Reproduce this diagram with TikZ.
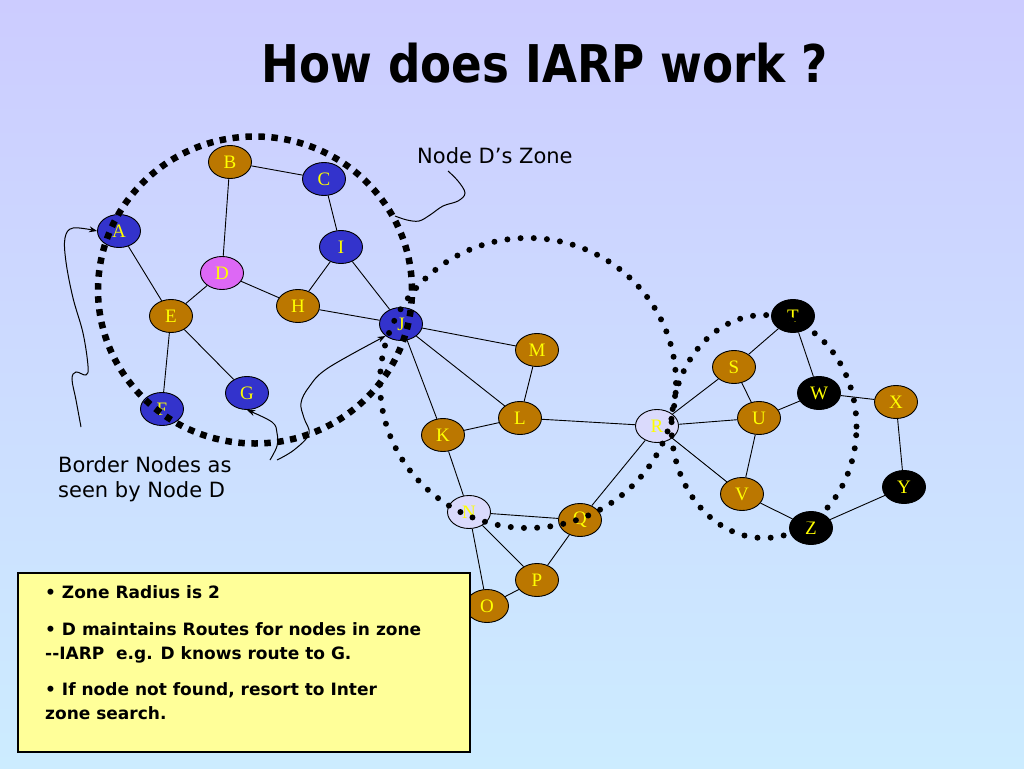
\documentclass[tikz,border=0pt]{standalone}
\usepackage{fontspec}
\setmainfont{DejaVu Sans}
\newfontfamily\serifnode{Liberation Serif}
\usetikzlibrary{shapes.geometric,arrows.meta}
\definecolor{bgtop}{RGB}{204,204,255}
\definecolor{bgbot}{RGB}{204,236,255}
\definecolor{nblue}{RGB}{51,51,204}
\definecolor{nbrown}{RGB}{187,119,0}
\definecolor{npink}{RGB}{221,104,245}
\definecolor{nlav}{RGB}{218,218,252}
\definecolor{nyellow}{RGB}{255,255,0}
\definecolor{boxfill}{RGB}{255,255,153}
\begin{document}
\begin{tikzpicture}[x=1pt,y=-1pt,
  gnode/.style={ellipse, draw=black, line width=0.9pt, minimum width=43pt, minimum height=33pt,
    inner sep=0pt, font=\serifnode\fontsize{19}{19}\selectfont, text=nyellow},
  bn/.style={gnode, fill=nblue},
  rn/.style={gnode, fill=nbrown},
  pn/.style={gnode, fill=npink},
  ln/.style={gnode, fill=nlav},
  kn/.style={gnode, fill=black},
  link/.style={line width=0.9pt},
  bigdots/.style={line width=6.5pt, dash pattern=on 6.5pt off 6.5pt},
  rounddots/.style={line width=6pt, line cap=round, dash pattern=on 0pt off 13.2pt},
  pointer/.style={line width=1pt, -{Stealth[length=8pt,width=6pt]}},
  curve/.style={line width=1pt},
  lbl/.style={font=\fontsize{21}{21}\selectfont, anchor=base west, inner sep=0pt},
  boxtxt/.style={font=\bfseries\fontsize{17}{17}\selectfont, anchor=base west, inner sep=0pt}
]
\useasboundingbox (0,0) rectangle (1024,768);
\shade[top color=bgtop, bottom color=bgbot] (0,0) rectangle (1024,768);

% title
\node[anchor=base, inner sep=0pt] (title) at (545,82)
  {\scalebox{0.87}[1]{\bfseries\fontsize{52}{52}\selectfont How does IARP work ?}};

% nodes
\node[bn] (A) at (119,231) {A};
\node[rn] (B) at (230,162) {B};
\node[bn] (C) at (324,179) {C};
\node[pn] (D) at (222,273) {D};
\node[rn] (E) at (171,316) {E};
\node[bn] (F) at (162,409) {F};
\node[bn] (G) at (247,393) {G};
\node[rn] (H) at (298,306) {H};
\node[bn] (I) at (341,247) {I};
\node[bn] (J) at (401,324) {J};
\node[rn] (K) at (443,435) {K};
\node[rn] (L) at (520,418) {L};
\node[rn] (M) at (537,350) {M};
\node[ln] (N) at (469,512) {N};
\node[rn] (O) at (487,606) {O};
\node[rn] (P) at (537,580) {P};
\node[rn] (Q) at (580,520) {Q};
\node[ln] (R) at (657,426) {R};
\node[rn] (S) at (734,367) {S};
\node[kn] (T) at (793,316) {T};
\node[rn] (U) at (759,418) {U};
\node[rn] (V) at (742,494) {V};
\node[kn] (W) at (819,393) {W};
\node[rn] (X) at (896,402) {X};
\node[kn] (Y) at (904,487) {Y};
\node[kn] (Z) at (811,528) {Z};

% links
\foreach \a/\b in {A/E,B/D,B/C,C/I,I/H,I/J,D/E,D/H,E/F,E/G,H/J,J/M,J/L,J/K,M/L,K/L,L/R,K/N,
  N/Q,N/P,N/O,O/P,P/Q,Q/R,R/S,R/U,R/V,S/T,S/U,U/W,U/V,T/W,W/X,X/Y,Y/Z,V/Z}
  \draw[link] (\a) -- (\b);

% zones
\draw[bigdots] (255,290) ellipse [x radius=157pt, y radius=153.5pt];
\draw[rounddots] (528,383) ellipse [x radius=148pt, y radius=145pt];
\draw[rounddots] (764,426.5) ellipse [x radius=92.5pt, y radius=111.5pt];

% labels
\node[lbl] (zonelbl) at (417,163) {Node D’s Zone};
\node[lbl] (border1) at (58,472) {Border Nodes as};
\node[lbl] (border2) at (58,497) {seen by Node D};

% callout curves
\coordinate (zc0) at (448,171);
\coordinate (zc1) at (395,216);
\draw[curve] plot[smooth, tension=0.6] coordinates {(zc0) (458,181) (465,193) (458,201) (443,206) (430,215) (419,221) (407,220) (zc1)};

\coordinate (ac0) at (81,427);
\draw[pointer] plot[smooth, tension=0.6] coordinates {(ac0) (76,400) (72,379) (76,372) (86,375) (88,366) (83,333) (73,298) (66,262) (65,238) (73,228) (A.west)};

\coordinate (gc0) at (270,460);
\draw[pointer] plot[smooth, tension=0.6] coordinates {(gc0) (277,446) (277,433) (272,422) (G.south)};

\coordinate (jc0) at (277,460);
\draw[pointer] plot[smooth, tension=0.6] coordinates {(jc0) (294,450) (309,434) (304,418) (301,403) (309,387) (328,368) (J.south west)};

% text box
\node[draw=black, line width=1.5pt, fill=boxfill, minimum width=452pt, minimum height=179pt,
  anchor=north west, inner sep=0pt] (box) at (17,572) {};
\node[boxtxt] (t1) at (45,598) {• Zone Radius is 2};
\node[boxtxt] (t2) at (45,635) {• D maintains Routes for nodes in zone};
\node[boxtxt] (t3) at (45,659) {-{}-IARP \ e.g. D knows route to G.};
\node[boxtxt] (t4) at (45,695) {• If node not found, resort to Inter};
\node[boxtxt] (t5) at (45,719) {zone search.};
\end{tikzpicture}
\end{document}
